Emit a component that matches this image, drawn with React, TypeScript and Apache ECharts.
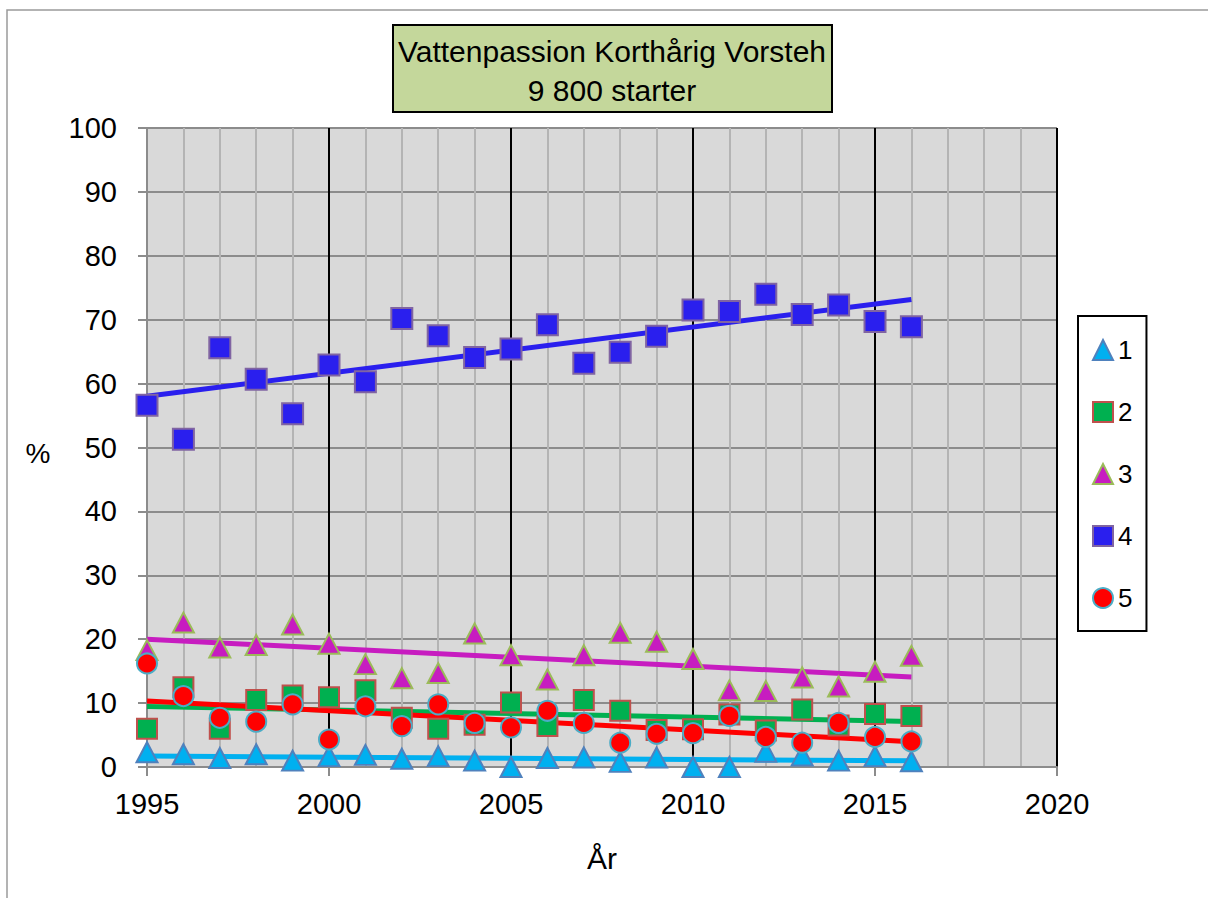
import React, { useEffect, useRef } from "react";
import * as echarts from "echarts";

const years = [1995, 1996, 1997, 1998, 1999, 2000, 2001, 2002, 2003, 2004, 2005, 2006, 2007, 2008, 2009, 2010, 2011, 2012, 2013, 2014, 2015, 2016];
const s1 = [2.3, 2.0, 1.4, 2.0, 1.0, 1.7, 1.9, 1.3, 1.7, 1.0, 0.0, 1.4, 1.5, 0.8, 1.5, 0.0, 0.0, 2.4, 1.8, 1.0, 1.7, 0.9];
const s2 = [6.0, 12.5, 6.0, 10.5, 11.2, 10.9, 12.0, 7.7, 6.0, 6.6, 10.1, 6.4, 10.5, 8.8, 5.8, 5.9, 8.2, 5.7, 9.0, 6.5, 8.3, 8.0];
const s3 = [18.3, 22.6, 18.7, 19.1, 22.3, 19.3, 16.1, 13.9, 14.7, 20.9, 17.5, 13.7, 17.5, 21.0, 19.6, 16.9, 12.0, 11.9, 14.0, 12.6, 14.9, 17.4];
const s4 = [56.6, 51.3, 65.6, 60.7, 55.3, 62.9, 60.3, 70.2, 67.5, 64.1, 65.4, 69.2, 63.2, 64.9, 67.4, 71.5, 71.3, 74.0, 70.8, 72.3, 69.7, 68.9];
const s5 = [16.2, 11.1, 7.7, 7.1, 9.8, 4.3, 9.5, 6.4, 9.8, 6.9, 6.2, 8.8, 6.9, 3.8, 5.2, 5.3, 8.0, 4.7, 3.8, 6.9, 4.7, 4.0];
const seriesNames = ["1", "2", "3", "4", "5"];
const yTicks = { min: 0, max: 100, interval: 10 };
const xTicks = { min: 1995, max: 2020, interval: 5 };
const titleLines = ["Vattenpassion Korthårig Vorsteh", "9 800 starter"];
const xName = "År";
const yName = "%";

const FONT = "'Liberation Sans', sans-serif";

function regression(xs: number[], ys: number[]) {
  const n = xs.length;
  const mx = xs.reduce((a, b) => a + b, 0) / n;
  const my = ys.reduce((a, b) => a + b, 0) / n;
  let num = 0;
  let den = 0;
  for (let i = 0; i < n; i++) {
    num += (xs[i] - mx) * (ys[i] - my);
    den += (xs[i] - mx) * (xs[i] - mx);
  }
  const b = num / den;
  const a = my - b * mx;
  const x0 = xs[0];
  const x1 = xs[n - 1];
  return [
    [x0, a + b * x0],
    [x1, a + b * x1],
  ];
}

export default function App() {
  const ref = useRef<HTMLDivElement>(null);
  useEffect(() => {
    if (!ref.current) return;
    const chart = echarts.init(ref.current, undefined, { renderer: "svg" });
    const all = [s1, s2, s3, s4, s5];
    const styles = [
      { symbol: "triangle", size: [21, 20], color: "#00b0f0", border: "#4f81bd" },
      { symbol: "rect", size: [20, 20], color: "#00b050", border: "#c0504d" },
      { symbol: "triangle", size: [21, 20], color: "#c71cc0", border: "#9bbb59" },
      { symbol: "rect", size: [21, 21], color: "#2a1fee", border: "#8064a2" },
      { symbol: "circle", size: [20, 20], color: "#ff0000", border: "#4bacc6" },
    ];
    const lineColors = ["#00b0f0", "#00b050", "#c71cc0", "#2a1fee", "#ff0000"];
    const trendSeries = all.map((vals, i) => ({
      name: "trend" + seriesNames[i],
      type: "line",
      data: regression(years, vals),
      showSymbol: false,
      symbol: "none",
      lineStyle: { color: lineColors[i], width: 5 },
      z: 2,
      silent: true,
    }));
    const scatterSeries = all.map((vals, i) => ({
      name: seriesNames[i],
      type: "scatter",
      symbol: styles[i].symbol,
      symbolSize: styles[i].size,
      data: vals.map((v, j) => [years[j], v]),
      itemStyle: {
        color: styles[i].color,
        borderColor: styles[i].border,
        borderWidth: 2,
        opacity: 1,
      },
      z: 3,
    }));
    chart.setOption({
      animation: false,
      backgroundColor: "#ffffff",
      textStyle: { fontFamily: FONT, color: "#000" },
      grid: { left: 147, top: 128, width: 910, height: 639, show: true, backgroundColor: "#d9d9d9", borderWidth: 0 },
      xAxis: {
        type: "value",
        min: xTicks.min,
        max: xTicks.max,
        interval: xTicks.interval,
        axisLine: { show: true, onZero: false, lineStyle: { color: "#8c8c8c", width: 2 } },
        axisTick: { show: true, length: 9, lineStyle: { color: "#8c8c8c", width: 2 } },
        axisLabel: { fontSize: 29, color: "#000", fontFamily: FONT, margin: 22, formatter: (v: number) => String(v) },
        splitLine: { show: true, lineStyle: { color: ["#8c8c8c", "#000", "#000", "#000", "#000", "#000"], width: 2 } },
        minorTick: { show: false, splitNumber: 5 },
        minorSplitLine: { show: true, lineStyle: { color: "#b4b4b4", width: 2 } },
      },
      yAxis: {
        type: "value",
        min: yTicks.min,
        max: yTicks.max,
        interval: yTicks.interval,
        axisLine: { show: true, lineStyle: { color: "#8c8c8c", width: 2 } },
        axisTick: { show: true, length: 9, lineStyle: { color: "#8c8c8c", width: 2 } },
        axisLabel: { fontSize: 29, color: "#000", fontFamily: FONT, margin: 30 },
        splitLine: { show: true, lineStyle: { color: "#8c8c8c", width: 2 } },
      },
      legend: {
        data: seriesNames,
        orient: "vertical",
        left: 1078,
        top: 316,
        padding: [21, 14, 20, 14],
        itemWidth: 20,
        itemHeight: 20,
        itemGap: 36,
        itemSymbolKeepAspect: true,
        backgroundColor: "#ffffff",
        borderColor: "#000",
        borderWidth: 2,
        borderRadius: 0,
        textStyle: { fontSize: 26, lineHeight: 20, color: "#000", fontFamily: FONT },
        selectedMode: false,
      },
      graphic: [
        {
          type: "rect",
          shape: { x: 7, y: 10, width: 1300, height: 1000 },
          style: { fill: "none", stroke: "#9a9a9a", lineWidth: 1.5 },
          z: -10,
        },
        {
          type: "rect",
          shape: { x: 393, y: 25, width: 439, height: 87 },
          style: { fill: "#c4d79b", stroke: "#000", lineWidth: 2 },
          z: 10,
        },
        {
          type: "text",
          x: 612,
          y: 51,
          style: { text: titleLines[0], fontSize: 30, fontFamily: FONT, fill: "#000", align: "center", verticalAlign: "middle" },
          z: 11,
        },
        {
          type: "text",
          x: 612,
          y: 90,
          style: { text: titleLines[1], fontSize: 30, fontFamily: FONT, fill: "#000", align: "center", verticalAlign: "middle" },
          z: 11,
        },
        {
          type: "text",
          x: 38,
          y: 453,
          style: { text: yName, fontSize: 28, fontFamily: FONT, fill: "#000", align: "center", verticalAlign: "middle" },
        },
        {
          type: "text",
          x: 602,
          y: 858,
          style: { text: xName, fontSize: 30, fontFamily: FONT, fill: "#000", align: "center", verticalAlign: "middle" },
        },
      ],
      series: [...trendSeries, ...scatterSeries],
    });
    return () => chart.dispose();
  }, []);
  return <div ref={ref} style={{ position: "fixed", left: 0, top: 0, width: 1208, height: 898, background: "#fff" }} />;
}
